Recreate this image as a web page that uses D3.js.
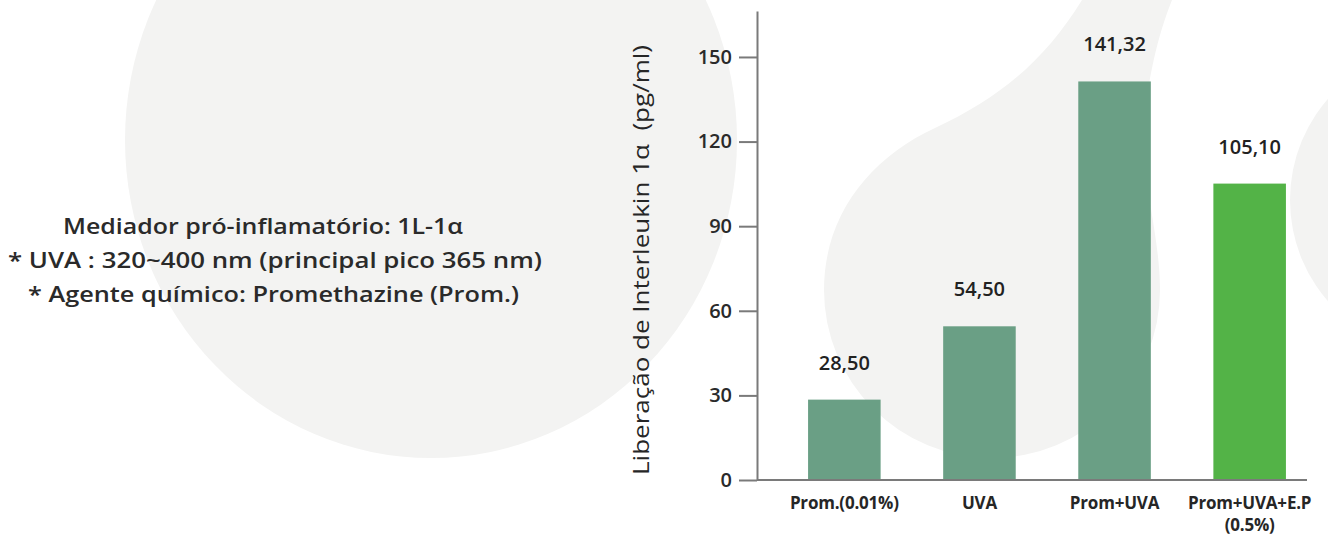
<!DOCTYPE html>
<html>
<head>
<meta charset="utf-8">
<script src="https://cdn.jsdelivr.net/npm/d3@7/dist/d3.min.js"></script>
<style>
  html, body { margin: 0; padding: 0; background: #ffffff; }
  svg { display: block; }
  text { font-family: "Open Sans", "Noto Sans", sans-serif; }
</style>
</head>
<body>
<svg id="chart" width="1328" height="537"></svg>
<script>
// ---- data ----
const categories = ["Prom.(0.01%)", "UVA", "Prom+UVA", "Prom+UVA+E.P"];
const categorySubLabels = ["", "", "", "(0.5%)"];
const values = [28.50, 54.50, 141.32, 105.10];
const barColors = ["#6a9f85", "#6a9f85", "#6a9f85", "#53b347"];
const yTicks = [0, 30, 60, 90, 120, 150];
const yTitle = "Liberação de Interleukin 1α  (pg/ml)";
const noteLines = [
  "Mediador pró-inflamatório: 1L-1α",
  "* UVA : 320~400 nm (principal pico 365 nm)",
  "* Agente químico: Promethazine (Prom.)"
];

const svg = d3.select("#chart");

// ---- decorative background shapes ----
const bg = svg.append("g").attr("fill", "#f3f3f2");
bg.append("ellipse").attr("cx", 431).attr("cy", 140).attr("rx", 306).attr("ry", 318);
bg.append("path")
  .attr("d", "M1082,0 C1045,60 1000,98 935,128 C870,158 824,215 824,290 " +
             "A168,168 0 0 0 1160,290 C1160,235 1141,180 1144,130 C1147,80 1158,35 1172,0 Z");
bg.append("circle").attr("cx", 1444).attr("cy", 200).attr("r", 154);

// ---- note text on the left ----
const noteX = [63, 8, 28];
const noteW = [400, 534, 491];
const noteY = [234, 268, 302];
svg.append("g").selectAll("text").data(noteLines).join("text")
  .attr("x", (d, i) => noteX[i])
  .attr("y", (d, i) => noteY[i])
  .attr("font-size", 22)
  .attr("font-weight", 600)
  .attr("fill", "#2a2a2a")
  .attr("textLength", (d, i) => noteW[i])
  .attr("lengthAdjust", "spacingAndGlyphs")
  .text(d => d);

// ---- scales ----
const y = d3.scaleLinear().domain([0, 166.3]).range([480, 11]);
const x = d3.scaleBand().domain(categories)
  .range([757, 1337]).paddingInner(0.463).paddingOuter(0.378);

// ---- y axis ----
const yAxis = svg.append("g")
  .attr("transform", "translate(757,0)")
  .call(d3.axisLeft(y).tickValues(yTicks).tickSize(18).tickSizeOuter(0).tickPadding(7));
yAxis.select(".domain").attr("stroke", "#7a7a7a").attr("stroke-width", 2);
yAxis.selectAll(".tick line").attr("stroke", "#7a7a7a").attr("stroke-width", 2);
yAxis.selectAll(".tick text")
  .attr("font-size", 20).attr("font-weight", 600).attr("fill", "#2a2a2a")
  .attr("font-family", "'Open Sans', sans-serif");

// y axis title
svg.append("text")
  .attr("transform", "translate(649,260) rotate(-90)")
  .attr("text-anchor", "middle")
  .attr("font-size", 21)
  .attr("fill", "#262626")
  .attr("textLength", 430)
  .attr("lengthAdjust", "spacingAndGlyphs")
  .style("white-space", "pre")
  .text(yTitle);

// ---- bars ----
const data = categories.map((c, i) => ({ c, v: values[i], color: barColors[i], sub: categorySubLabels[i] }));
svg.append("g").selectAll("rect").data(data).join("rect")
  .attr("x", d => x(d.c))
  .attr("width", x.bandwidth())
  .attr("y", d => y(d.v))
  .attr("height", d => y(0) - y(d.v))
  .attr("fill", d => d.color);

// baseline
svg.append("line")
  .attr("x1", 757).attr("x2", 1307)
  .attr("y1", y(0)).attr("y2", y(0))
  .attr("stroke", "#7a7a7a").attr("stroke-width", 2);

// value labels (comma decimal)
const fmt = v => d3.format(".2f")(v).replace(".", ",");
svg.append("g").selectAll("text").data(data).join("text")
  .attr("x", d => x(d.c) + x.bandwidth() / 2)
  .attr("y", d => y(d.v) - 30)
  .attr("text-anchor", "middle")
  .attr("font-size", 20)
  .attr("font-weight", 600)
  .attr("fill", "#222")
  .text(d => fmt(d.v));

// category labels
const cat = svg.append("g").selectAll("g").data(data).join("g")
  .attr("transform", d => `translate(${x(d.c) + x.bandwidth() / 2},0)`);
cat.append("text")
  .attr("y", 509)
  .attr("text-anchor", "middle")
  .attr("font-size", 17)
  .attr("font-weight", 700)
  .attr("letter-spacing", -0.2)
  .attr("fill", "#262626")
  .text(d => d.c);
cat.append("text")
  .attr("y", 531)
  .attr("text-anchor", "middle")
  .attr("font-size", 17)
  .attr("font-weight", 700)
  .attr("letter-spacing", -0.2)
  .attr("fill", "#262626")
  .text(d => d.sub);
</script>
</body>
</html>
